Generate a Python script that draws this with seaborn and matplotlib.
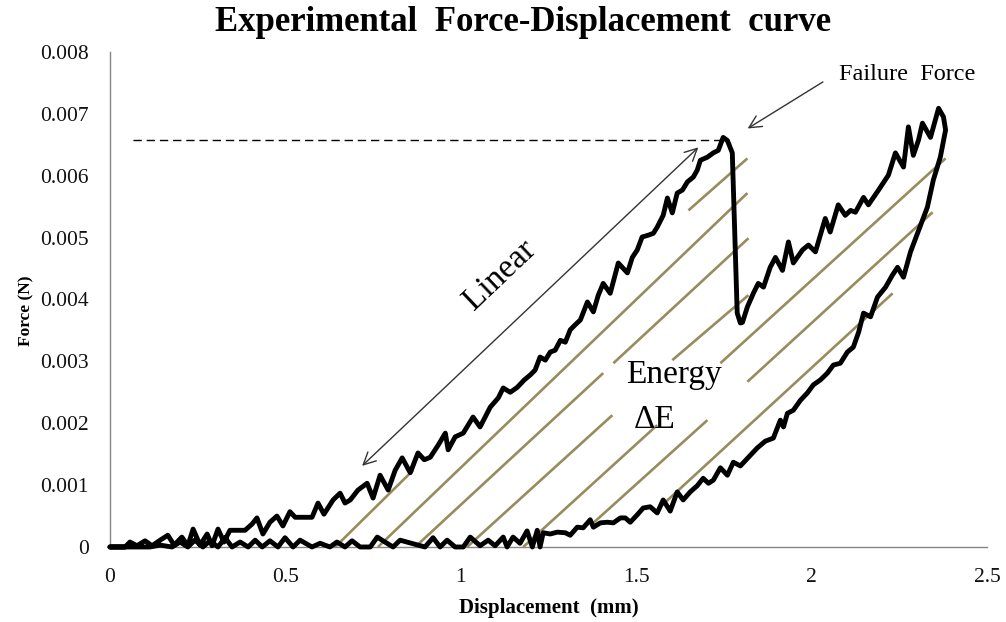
import argparse
import pandas as pd
import matplotlib
matplotlib.use('agg')
import seaborn as sns
import matplotlib.pyplot as plt

# loading branch: origin -> failure peak -> sudden drop
LOAD_X = [0.000, 0.043, 0.057, 0.077, 0.100, 0.120, 0.143, 0.165, 0.183, 0.205, 0.222, 0.237,
	0.257, 0.277, 0.291, 0.308, 0.325, 0.342, 0.385, 0.405, 0.419, 0.436, 0.456, 0.476,
	0.493, 0.513, 0.528, 0.576, 0.593, 0.610, 0.636, 0.656, 0.670, 0.685, 0.707, 0.733,
	0.750, 0.770, 0.793, 0.813, 0.833, 0.856, 0.878, 0.896, 0.913, 0.936, 0.956, 0.964,
	0.984, 1.007, 1.035, 1.055, 1.084, 1.107, 1.121, 1.141, 1.161, 1.181, 1.198, 1.212,
	1.226, 1.241, 1.255, 1.269, 1.284, 1.298, 1.312, 1.326, 1.341, 1.361, 1.378, 1.392,
	1.406, 1.426, 1.449, 1.475, 1.489, 1.503, 1.517, 1.535, 1.549, 1.560, 1.577, 1.589,
	1.603, 1.617, 1.632, 1.646, 1.663, 1.674, 1.683, 1.703, 1.720, 1.734, 1.748, 1.760,
	1.774, 1.777, 1.783, 1.788, 1.797]
LOAD_Y = [0, 0, 0.00008, 0.00002, 0.00010, 0.00002, 0.00011, 0.00019, 0.00003, 0.00016, 0.00002, 0.00029,
	0.00003, 0.00021, 0.00002, 0.00029, 0.00008, 0.00027, 0.00027, 0.00037, 0.00047, 0.00021, 0.00040, 0.00050,
	0.00034, 0.00057, 0.00048, 0.00048, 0.00071, 0.00053, 0.00076, 0.00087, 0.00071, 0.00076, 0.00092, 0.00103,
	0.00079, 0.00116, 0.00092, 0.00124, 0.00144, 0.00120, 0.00152, 0.00141, 0.00145, 0.00165, 0.00184, 0.00157,
	0.00178, 0.00184, 0.00210, 0.00194, 0.00226, 0.00241, 0.00257, 0.00250, 0.00258, 0.00270, 0.00278, 0.00286,
	0.00307, 0.00302, 0.00315, 0.00318, 0.00334, 0.00331, 0.00351, 0.00359, 0.00367, 0.00396, 0.00380, 0.00407,
	0.00426, 0.00410, 0.00459, 0.00443, 0.00468, 0.00480, 0.00501, 0.00504, 0.00507, 0.00517, 0.00536, 0.00564,
	0.00540, 0.00572, 0.00577, 0.00590, 0.00598, 0.00609, 0.00625, 0.00630, 0.00637, 0.00641, 0.00662, 0.00657,
	0.00637, 0.00582, 0.00475, 0.00378, 0.00362]

# reloading after failure up to max
RELOAD_X = [1.803, 1.817, 1.834, 1.848, 1.863, 1.882, 1.897, 1.917, 1.934, 1.948, 1.974, 1.991,
	2.011, 2.025, 2.039, 2.053, 2.076, 2.096, 2.111, 2.125, 2.148, 2.162, 2.191, 2.219,
	2.239, 2.262, 2.276, 2.290, 2.305, 2.316, 2.339, 2.362, 2.376, 2.382]
RELOAD_Y = [0.00363, 0.00388, 0.00410, 0.00426, 0.00420, 0.00452, 0.00468, 0.00447, 0.00493, 0.00459, 0.00480, 0.00488,
	0.00477, 0.00504, 0.00531, 0.00509, 0.00553, 0.00536, 0.00544, 0.00541, 0.00565, 0.00553, 0.00577, 0.00601,
	0.00637, 0.00614, 0.00679, 0.00633, 0.00658, 0.00685, 0.00662, 0.00709, 0.00695, 0.00674]

# unloading back to zero
UNLOAD_X = [2.367, 2.347, 2.330, 2.316, 2.302, 2.282, 2.262, 2.245, 2.230, 2.211, 2.188, 2.168,
	2.148, 2.134, 2.119, 2.102, 2.082, 2.062, 2.045, 2.025, 2.005, 1.988, 1.968, 1.948,
	1.931, 1.920, 1.911, 1.891, 1.868, 1.845, 1.820, 1.797, 1.777, 1.760, 1.740, 1.720,
	1.706, 1.691, 1.674, 1.654, 1.634, 1.617, 1.597, 1.577, 1.560, 1.540, 1.520, 1.503,
	1.483, 1.469, 1.455, 1.435, 1.418, 1.398, 1.378, 1.369, 1.349, 1.332, 1.312, 1.298,
	1.275, 1.255, 1.235, 1.226, 1.218, 1.204, 1.189, 1.169, 1.149, 1.132, 1.121, 1.098,
	1.078, 1.055, 1.027, 1.007, 0.984, 0.961, 0.941, 0.921, 0.898, 0.827, 0.807, 0.784,
	0.762, 0.742, 0.713, 0.690, 0.670, 0.647, 0.627, 0.599, 0.576, 0.542, 0.522, 0.499,
	0.479, 0.456, 0.434, 0.414, 0.394, 0.371, 0.348, 0.328, 0.308, 0.285, 0.265, 0.242,
	0.222, 0.200, 0.177, 0.143, 0.114, 0.000]
UNLOAD_Y = [0.00630, 0.00593, 0.00549, 0.00528, 0.00507, 0.00477, 0.00436, 0.00452, 0.00439, 0.00420, 0.00404, 0.00372,
	0.00378, 0.00347, 0.00323, 0.00315, 0.00297, 0.00294, 0.00281, 0.00270, 0.00262, 0.00249, 0.00237, 0.00221,
	0.00216, 0.00194, 0.00205, 0.00176, 0.00171, 0.00160, 0.00145, 0.00131, 0.00137, 0.00116, 0.00128, 0.00108,
	0.00103, 0.00111, 0.00099, 0.00089, 0.00076, 0.00089, 0.00058, 0.00076, 0.00055, 0.00065, 0.00063, 0.00052,
	0.00040, 0.00047, 0.00047, 0.00039, 0.00040, 0.00039, 0.00032, 0.00044, 0.00031, 0.00032, 0.00019, 0.00023,
	0.00024, 0.00021, 0.00023, 0, 0.00027, 0, 0.00026, 0.00006, 0.00016, 0, 0.00016, 0.00002,
	0.00011, 0.00002, 0.00016, 0, 0, 0.00011, 0, 0.00015, 0, 0.00011, 0, 0.00008,
	0.00016, 0, 0, 0.00010, 0, 0.00008, 0, 0.00006, 0, 0.00011, 0, 0.00015,
	0, 0.00010, 0, 0.00011, 0, 0.00008, 0, 0.00015, 0, 0.00010, 0, 0.00011,
	0, 0.00008, 0, 0.00003, 0, 0]

X_TICKS = [0, 0.5, 1, 1.5, 2, 2.5]
X_LABELS = ['0', '0.5', '1', '1.5', '2', '2.5']
Y_TICKS = [0, 0.001, 0.002, 0.003, 0.004, 0.005, 0.006, 0.007, 0.008]
Y_LABELS = ['0', '0.001', '0.002', '0.003', '0.004', '0.005', '0.006', '0.007', '0.008']

FAILURE_FORCE = 0.00658

# hand drawn hatch strokes for the energy area (start / end)
HATCH_X1 = [1.649, 0.642, 0.764, 0.870, 1.435, 1.018, 1.603, 1.178, 1.740, 1.378, 1.817, 1.569]
HATCH_Y1 = [0.00544, 0, 0, 0, 0.00297, 0, 0.00302, 0, 0.00297, 0.00039, 0.00267, 0.00065]
HATCH_X2 = [1.817, 0.864, 1.817, 1.406, 1.820, 1.432, 1.820, 1.560, 2.382, 1.703, 2.345, 2.231]
HATCH_Y2 = [0.00628, 0.00124, 0.00572, 0.00281, 0.00499, 0.00213, 0.00407, 0.00197, 0.00628, 0.00205, 0.00541, 0.00410]


def main(output):

	sns.set_theme(style="white")
	plt.rcParams['font.family'] = ['Liberation Serif', 'DejaVu Serif']
	plt.rcParams['text.color'] = 'black'
	plt.rcParams['axes.labelcolor'] = 'black'

	fig = plt.figure(figsize=(10.06, 6.22), dpi=100)
	ax = fig.add_axes([0.1093, 0.1206, 0.8718, 0.7958])

	# hatching
	for x1, y1, x2, y2 in zip(HATCH_X1, HATCH_Y1, HATCH_X2, HATCH_Y2):
		ax.plot([x1, x2], [y1, y2], color='#968c5e', lw=1.9, solid_capstyle='butt', zorder=1)

	curve = pd.DataFrame({
		'disp': LOAD_X + RELOAD_X + UNLOAD_X,
		'force': LOAD_Y + RELOAD_Y + UNLOAD_Y,
	})
	sns.lineplot(data=curve, x='disp', y='force', sort=False, estimator=None,
				 color='black', linewidth=3.5, ax=ax, zorder=3)
	line = ax.lines[-1]
	line.set_clip_on(False)
	line.set_solid_joinstyle('round')
	line.set_solid_capstyle('round')

	# failure level
	ax.plot([0.066, 1.754], [FAILURE_FORCE, FAILURE_FORCE], color='black', lw=1,
			ls=(0, (6, 3.5)), zorder=2)

	ax.annotate('', xy=(1.811, 0.00674), xytext=(2.039, 0.00754),
				arrowprops=dict(arrowstyle='->', color='#333333', lw=1, mutation_scale=22))
	ax.text(2.077, 0.00763, 'Failure  Force', fontsize=17.5, ha='left', va='center')

	ax.annotate('', xy=(0.713, 0.00128), xytext=(1.683, 0.00649),
				arrowprops=dict(arrowstyle='<->', color='#333333', lw=1, mutation_scale=22))
	ax.text(1.112, 0.00439, 'Linear', fontsize=24, rotation=43.5, rotation_mode='anchor',
			ha='center', va='center')

	ax.text(1.609, 0.00278, 'Energy', fontsize=24, ha='center', va='center')
	ax.text(1.554, 0.00205, '\u0394E', fontsize=24, ha='center', va='center')

	ax.set_xlim(0, 2.5)
	ax.set_ylim(0, 0.008)
	ax.set_xticks(X_TICKS)
	ax.set_xticklabels(X_LABELS)
	ax.set_yticks(Y_TICKS)
	ax.set_yticklabels(Y_LABELS)
	ax.tick_params(axis='both', length=0, labelsize=15.5, colors='#111111')
	ax.tick_params(axis='x', pad=15)
	ax.tick_params(axis='y', pad=15)

	sns.despine(ax=ax)
	for side in ['left', 'bottom']:
		ax.spines[side].set_color('#868686')
		ax.spines[side].set_linewidth(1)

	ax.set_xlabel('Displacement  (mm)', fontsize=15, fontweight='bold', labelpad=8)
	ax.set_ylabel('Force (N)', fontsize=12.5, fontweight='bold', labelpad=4)
	ax.yaxis.label.set_y(0.478)

	fig.text(0.52, 0.9646, 'Experimental  Force-Displacement  curve', fontsize=25,
			 fontweight='bold', ha='center', va='center', color='black')

	fig.savefig(output, dpi=100)


if __name__ == "__main__":
	parser = argparse.ArgumentParser(description='')
	parser.add_argument('-o', required=False, default="out.png", help='output name')
	args = parser.parse_args()

	main(args.o)
